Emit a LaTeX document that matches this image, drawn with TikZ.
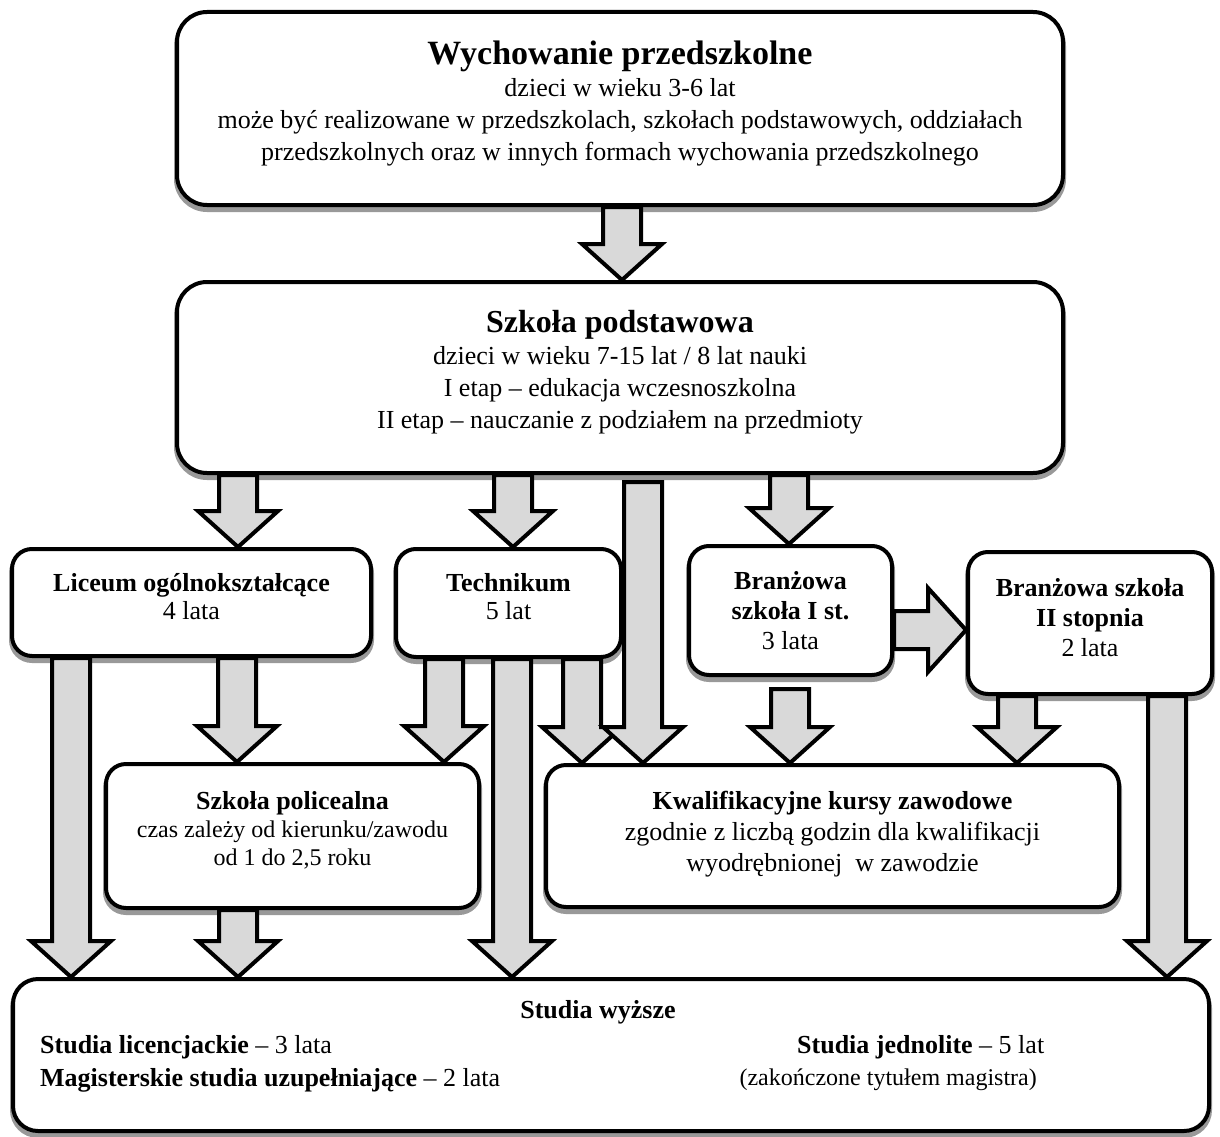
\documentclass[tikz,border=0pt]{standalone}
\usepackage{fontspec}
\setmainfont{Liberation Serif}
\usetikzlibrary{shadows,calc}

\definecolor{arrowgray}{gray}{0.85}
\definecolor{shadowgray}{gray}{0.6}

% block arrow down: [gap at top]{x}{from node}{to node}
\newcommand{\arrdown}[4][0]{%
  \draw[blockarr] let \p1=(#3.south), \p2=(#4.north) in
    (#2pt-19pt,\y1-#1pt) -- (#2pt+19pt,\y1-#1pt) -- (#2pt+19pt,\y2+36pt) -- (#2pt+40pt,\y2+36pt)
    -- (#2pt,\y2) -- (#2pt-40pt,\y2+36pt) -- (#2pt-19pt,\y2+36pt) -- cycle;}
% block arrow right: {y}{from node}{to node}
\newcommand{\arrright}[3]{%
  \draw[blockarr] let \p1=(#2.east), \p2=(#3.west) in
    (\x1,-#1pt+19pt) -- (\x2-38pt,-#1pt+19pt) -- (\x2-38pt,-#1pt+42pt) -- (\x2,-#1pt)
    -- (\x2-38pt,-#1pt-42pt) -- (\x2-38pt,-#1pt-19pt) -- (\x1,-#1pt-19pt) -- cycle;}

\begin{document}
\begin{tikzpicture}[x=1pt,y=-1pt,
  box/.style={draw, line width=4pt, rounded corners=20pt, fill=white, align=center, inner sep=4pt,
    font=\fontsize{26}{30}\selectfont,
    general shadow={shadow yshift=-4pt, fill=shadowgray, draw=shadowgray, line width=6pt}},
  bigbox/.style={box, rounded corners=30pt, font=\fontsize{26}{32}\selectfont, text depth=16pt},
  blockarr/.style={fill=arrowgray, draw=black, line width=4pt, line join=miter},
  txt/.style={inner sep=0pt, font=\fontsize{26}{30}\selectfont}]
	\useasboundingbox (0,0) rectangle (1220,1137);

	% boxes
	\node[bigbox, minimum width=886pt, minimum height=193pt] (przed) at (620,108.5)
		{{\fontsize{34}{35}\selectfont\bfseries Wychowanie przedszkolne}\\
		dzieci w wieku 3-6 lat\\
		może być realizowane w przedszkolach, szkołach podstawowych, oddziałach\\
		przedszkolnych oraz w innych formach wychowania przedszkolnego};
	\node[bigbox, minimum width=886pt, minimum height=191pt] (szkp) at (620,377.5)
		{{\fontsize{32}{35}\selectfont\bfseries Szkoła podstawowa}\\
		dzieci w wieku 7-15 lat / 8 lat nauki\\
		I etap -- edukacja wczesnoszkolna\\
		II etap -- nauczanie z podziałem na przedmioty};
	\node[box, minimum width=359pt, minimum height=107pt, font=\fontsize{26}{28}\selectfont, text depth=13pt] (lic) at (191.5,602.5)
		{\textbf{Liceum ogólnokształcące}\\4 lata};
	\node[box, minimum width=225pt, minimum height=108pt, font=\fontsize{26}{28}\selectfont, text depth=13pt] (tech) at (508.5,603)
		{\textbf{Technikum}\\5 lat};
	\node[box, minimum width=203pt, minimum height=129pt] (bI) at (790.5,610.5)
		{\textbf{Branżowa}\\\textbf{szkoła I st.}\\3 lata};
	\node[box, minimum width=244pt, minimum height=142pt, text depth=11pt] (bII) at (1090,623)
		{\textbf{Branżowa szkoła}\\\textbf{II stopnia}\\2 lata};
	\node[box, minimum width=373pt, minimum height=144pt, font=\fontsize{24}{28}\selectfont, text depth=16pt] (pol) at (292.5,836)
		{{\fontsize{26}{29}\selectfont\bfseries Szkoła policealna}\\
		czas zależy od kierunku/zawodu\\
		od 1 do 2,5 roku};
	\node[box, minimum width=573pt, minimum height=142pt, font=\fontsize{26}{31}\selectfont, text depth=10pt] (kkz) at (832.5,836)
		{\textbf{Kwalifikacyjne kursy zawodowe}\\
		zgodnie z liczbą godzin dla kwalifikacji\\
		wyodrębnionej\ \ w zawodzie};
	\node[box, rounded corners=25pt, minimum width=1196pt, minimum height=152pt] (stud) at (611,1055) {};

	% texts of the last box
	\node[txt] (studt) at (598,1012) {\textbf{Studia wyższe}};
	\node[txt, anchor=west] (lic3) at (40,1047) {\textbf{Studia licencjackie} -- 3 lata};
	\node[txt, anchor=west] (mag2) at (40,1080) {\textbf{Magisterskie studia uzupełniające} -- 2 lata};
	\node[txt, anchor=west] (jedn) at (797,1047) {\textbf{Studia jednolite} -- 5 lat};
	\node[txt, anchor=east, font=\fontsize{24}{28}\selectfont] (mgr) at (1037,1080) {(zakończone tytułem magistra)};

	% arrows
	\arrdown{622}{przed}{szkp}
	\arrdown{238}{szkp}{lic}
	\arrdown{513}{szkp}{tech}
	\arrdown{789}{szkp}{bI}
	\arrdown{71}{lic}{stud}
	\arrdown{237}{lic}{pol}
	\arrdown{444}{tech}{pol}
	\arrdown{512}{tech}{stud}
	\arrdown{582}{tech}{kkz}
	\arrdown[7]{643}{szkp}{kkz}
	\arrdown[12]{790}{bI}{kkz}
	\arrright{630}{bI}{bII}
	\arrdown{1017}{bII}{kkz}
	\arrdown{1167}{bII}{stud}
	\arrdown{238}{pol}{stud}
\end{tikzpicture}
\end{document}
